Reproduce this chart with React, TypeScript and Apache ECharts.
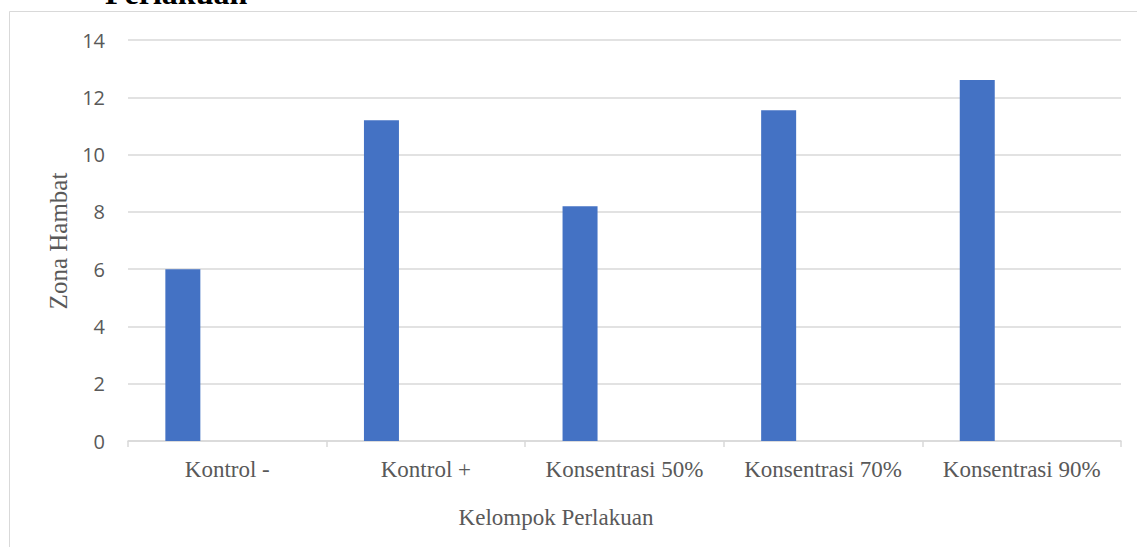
import React, { useEffect, useRef } from "react";
import * as echarts from "echarts";

const categories = ["Kontrol -", "Kontrol +", "Konsentrasi 50%", "Konsentrasi 70%", "Konsentrasi 90%"];
const zonaHambat = [6.0, 11.2, 8.2, 11.55, 12.6];
const emptySeries = [null, null, null, null, null];
const yMin = 0;
const yMax = 14;
const yInterval = 2;
const chartTitle = "Perlakuan";
const xTitle = "Kelompok Perlakuan";
const yTitle = "Zona Hambat";

export default function App() {
  const ref = useRef<HTMLDivElement>(null);
  useEffect(() => {
    if (!ref.current) return;
    const chart = echarts.init(ref.current, undefined, { renderer: "svg" });
    const serif = "'Liberation Serif', 'Times New Roman', serif";
    chart.setOption({
      animation: false,
      backgroundColor: "#ffffff",
      grid: { left: 128, right: 16, top: 40, bottom: 106, containLabel: false },
      graphic: [
        {
          type: "rect",
          shape: { x: 9.5, y: 11.5, width: 1200, height: 600 },
          style: { fill: "none", stroke: "#d9d9d9", lineWidth: 1 },
          silent: true,
          z: 0,
        },
        {
          type: "text",
          x: 105,
          y: -7,
          style: {
            text: chartTitle,
            font: "bold 32px " + serif,
            fill: "#000000",
            align: "left",
            verticalAlign: "middle",
          },
          z: 10,
        },
        {
          type: "text",
          x: 58,
          y: 241,
          rotation: Math.PI / 2,
          style: {
            text: yTitle,
            font: "25px " + serif,
            fill: "#595959",
            align: "center",
            verticalAlign: "middle",
          },
          z: 10,
        },
        {
          type: "text",
          x: 556,
          y: 517,
          style: {
            text: xTitle,
            font: "23px " + serif,
            fill: "#595959",
            align: "center",
            verticalAlign: "middle",
          },
          z: 10,
        },
      ],
      xAxis: {
        type: "category",
        data: categories,
        boundaryGap: true,
        axisLine: { show: true, lineStyle: { color: "#d9d9d9", width: 1.5 } },
        axisTick: { show: true, alignWithLabel: false, interval: 0, length: 6, lineStyle: { color: "#d9d9d9", width: 1.5 } },
        axisLabel: {
          interval: 0,
          margin: 17,
          fontFamily: serif,
          fontSize: 23,
          color: "#595959",
        },
        splitLine: { show: false },
      },
      yAxis: {
        type: "value",
        min: yMin,
        max: yMax,
        interval: yInterval,
        axisLine: { show: false },
        axisTick: { show: false },
        axisLabel: {
          margin: 23,
          fontFamily: "'Open Sans', 'Liberation Sans', sans-serif",
          fontSize: 20,
          color: "#595959",
        },
        splitLine: { show: true, lineStyle: { color: "#d9d9d9", width: 1.5 } },
      },
      series: [
        {
          type: "bar",
          name: "Zona Hambat",
          data: zonaHambat,
          barWidth: 35,
          barGap: "154%",
          itemStyle: { color: "#4472C4" },
        },
        {
          type: "bar",
          name: "",
          data: emptySeries,
          barWidth: 35,
          itemStyle: { color: "#ED7D31" },
        },
      ],
    });
    return () => chart.dispose();
  }, []);
  return <div ref={ref} style={{ width: 1137, height: 547, position: "absolute", left: 0, top: 0 }} />;
}
